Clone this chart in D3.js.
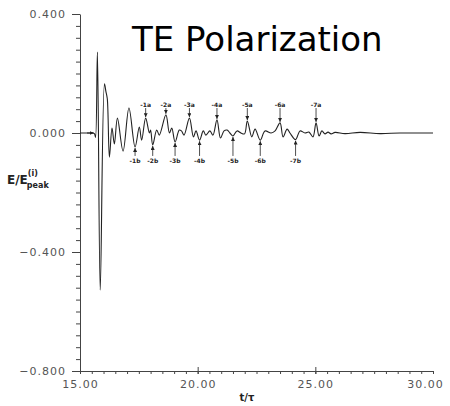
<!DOCTYPE html>
<html lang="en">
<head>
<meta charset="UTF-8">
<title>TE Polarization</title>
<script src="https://d3js.org/d3.v7.min.js"></script>
<style>
    body { margin: 0; background: #fff; }
    svg { display: block; }
    .axis text { font-family: 'DejaVu Sans', sans-serif; font-size: 11px; fill: #555; letter-spacing: 1px; }
    .axis line, .axis path { stroke: #444; stroke-width: 1; }
    .note { font-family: 'DejaVu Sans', sans-serif; font-size: 6px; font-weight: bold; fill: #222; text-anchor: middle; }
</style>
</head>
<body>
<svg id="chart" width="450" height="406"></svg>
<script>
// waveform (t/tau, E/Epeak)
var timeVals = [15.00, 15.40, 15.55, 15.62, 15.66, 15.74, 15.86, 16.04, 16.10, 16.16, 16.25, 16.36, 16.46, 16.59,
    16.83, 17.08, 17.34, 17.52, 17.62, 17.79, 17.95, 18.00, 18.09, 18.26, 18.37, 18.65, 18.80, 18.90, 19.04,
    19.22, 19.31, 19.42, 19.65, 19.82, 19.93, 20.08, 20.24, 20.35, 20.52, 20.65, 20.82, 20.97, 21.12, 21.25,
    21.37, 21.50, 21.67, 21.84, 21.99, 22.11, 22.30, 22.44, 22.66, 22.86, 23.12, 23.29, 23.50, 23.63, 23.80,
    23.92, 24.16, 24.35, 24.56, 24.73, 24.90, 25.03, 25.16, 25.28, 25.41, 25.54, 25.67, 25.84, 26.26, 26.90,
    27.75, 28.60, 30.00];
var fieldVals = [0.000, 0.000, 0.000, -0.003, -0.015, 0.272, -0.528, 0.165, 0.140, 0.115, -0.081, 0.017, -0.037, 0.050,
    -0.061, 0.084, -0.047, 0.020, -0.024, 0.050, 0.000, 0.010, -0.040, 0.010, -0.007, 0.061, 0.000, 0.017, -0.030,
    0.010, 0.007, -0.007, 0.050, -0.013, 0.007, -0.024, 0.007, -0.007, 0.007, -0.007, 0.044, -0.017, 0.007, 0.010,
    0.000, -0.010, 0.007, 0.000, -0.003, 0.040, -0.013, 0.013, -0.024, 0.007, 0.000, 0.007, 0.034, -0.013, 0.013,
    0.000, -0.022, 0.007, 0.000, 0.003, -0.013, 0.034, -0.010, 0.007, -0.003, 0.003, -0.003, 0.002, -0.002, 0.002,
    -0.002, 0.000, 0.000];

// arrow annotations
var peakNames = ["-1a", "-2a", "-3a", "-4a", "-5a", "-6a", "-7a"];
var peakT = [17.79, 18.65, 19.65, 20.82, 22.11, 23.50, 25.03];
var peakE = [0.050, 0.061, 0.050, 0.044, 0.040, 0.034, 0.034];
var dipNames = ["-1b", "-2b", "-3b", "-4b", "-5b", "-6b", "-7b"];
var dipT = [17.34, 18.09, 19.04, 20.08, 21.50, 22.66, 24.16];
var dipE = [-0.047, -0.040, -0.030, -0.024, -0.010, -0.024, -0.022];
var peakLabelE = 0.094, dipLabelE = -0.094;

var yMajor = [0.4, 0.0, -0.4, -0.8];
var xMajor = [15, 20, 25, 30];

var svg = d3.select("#chart");
var x = d3.scaleLinear().domain([15, 30]).range([80, 433]);
var y = d3.scaleLinear().domain([-0.8, 0.4]).range([371, 14]);

svg.append("defs").append("marker")
    .attr("id", "head")
    .attr("viewBox", "0 0 6 6")
    .attr("refX", 6).attr("refY", 3)
    .attr("markerUnits", "userSpaceOnUse")
    .attr("markerWidth", 4).attr("markerHeight", 4)
    .attr("orient", "auto")
  .append("path").attr("d", "M0,0L6,3L0,6Z").attr("fill", "#222");

// y axis
svg.append("g").attr("class", "axis")
    .attr("transform", "translate(80,0)")
    .call(d3.axisLeft(y).tickValues(d3.range(-20, 11).map(d => d * 0.04)).tickSize(4).tickFormat(""))
    .call(g => g.select(".domain").remove());
svg.append("g").attr("class", "axis")
    .attr("transform", "translate(80,0)")
    .call(d3.axisLeft(y).tickValues(yMajor).tickSize(8).tickSizeOuter(0).tickPadding(6).tickFormat(d3.format(".3f")));

// x axis
svg.append("g").attr("class", "axis")
    .attr("transform", "translate(0,371)")
    .call(d3.axisBottom(x).tickValues(d3.range(30, 61).map(d => d * 0.5)).tickSize(3).tickFormat(""))
    .call(g => g.select(".domain").remove());
svg.append("g").attr("class", "axis")
    .attr("transform", "translate(0,371)")
    .call(d3.axisBottom(x).tickValues(xMajor).tickSize(3).tickSizeOuter(0).tickPadding(6).tickFormat(d3.format(".2f")))
    .call(g => g.selectAll(".tick text").filter(d => d === 30).attr("dx", -8));
svg.append("g").attr("class", "axis")
    .attr("transform", "translate(0,371)")
    .call(d3.axisTop(x).tickValues([20, 25]).tickSize(4).tickFormat(""))
    .call(g => g.select(".domain").remove());

// waveform
var pts = timeVals.map((t, i) => [t, fieldVals[i]]);
svg.append("path")
    .datum(pts)
    .attr("fill", "none")
    .attr("stroke", "#222")
    .attr("stroke-width", 1.1)
    .attr("d", d3.line().x(d => x(d[0])).y(d => y(d[1])).curve(d3.curveCatmullRom.alpha(0.5)));

// incoming arrow on baseline
svg.append("line")
    .attr("x1", x(15.3)).attr("x2", x(15.58))
    .attr("y1", y(0)).attr("y2", y(0))
    .attr("stroke", "#222").attr("marker-end", "url(#head)");

// peak / dip arrows
peakT.forEach((t, i) => {
    svg.append("text").attr("class", "note").attr("x", x(t)).attr("y", y(peakLabelE) + 2).text(peakNames[i]);
    svg.append("line").attr("x1", x(t)).attr("x2", x(t))
        .attr("y1", y(peakLabelE) + 3).attr("y2", y(peakE[i]) - 1)
        .attr("stroke", "#222").attr("stroke-width", 0.8).attr("marker-end", "url(#head)");
});
dipT.forEach((t, i) => {
    svg.append("text").attr("class", "note").attr("x", x(t)).attr("y", y(dipLabelE) + 2).text(dipNames[i]);
    svg.append("line").attr("x1", x(t)).attr("x2", x(t))
        .attr("y1", y(dipLabelE) - 5).attr("y2", y(dipE[i]) + 1)
        .attr("stroke", "#222").attr("stroke-width", 0.8).attr("marker-end", "url(#head)");
});

// axis titles
var yt = svg.append("text")
    .attr("x", 7).attr("y", 184)
    .attr("font-family", "'DejaVu Sans', sans-serif")
    .attr("font-weight", "bold").attr("font-size", 12).attr("fill", "#222")
    .text("E/E");
yt.append("tspan").attr("dy", -8).attr("font-size", 8).text("(i)");
yt.append("tspan").attr("dx", -11).attr("dy", 12).attr("font-size", 8).text("peak");

svg.append("text")
    .attr("x", 247).attr("y", 401)
    .attr("text-anchor", "middle")
    .attr("font-family", "'DejaVu Sans', sans-serif")
    .attr("font-weight", "bold").attr("font-size", 10).attr("fill", "#222")
    .text("t/\u03c4");

// title
svg.append("text")
    .attr("x", 132).attr("y", 51)
    .attr("font-family", "'DejaVu Sans', sans-serif")
    .attr("font-size", 34).attr("fill", "#000")
    .text("TE Polarization");
</script>
</body>
</html>
